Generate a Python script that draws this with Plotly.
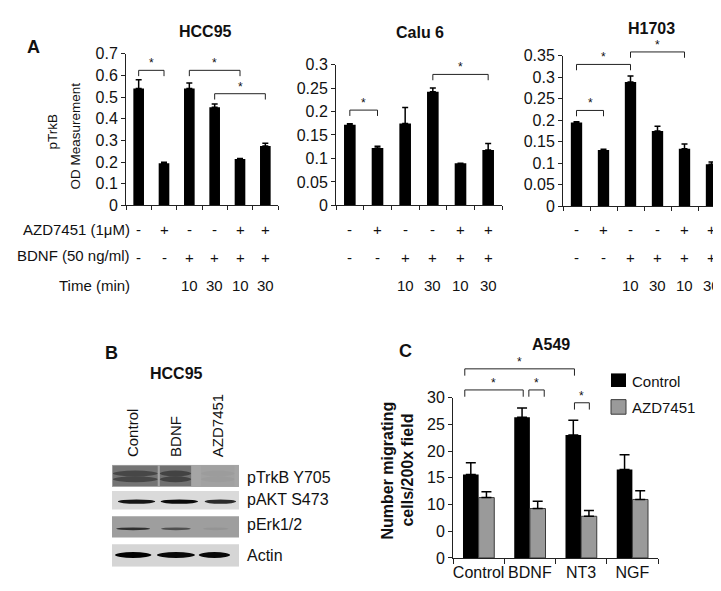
import plotly.graph_objects as go

# ---------------- data ----------------
# Panel A: pTrkB OD measurement
a_titles = ['HCC95', 'Calu 6', 'H1703']
hcc95_vals = [0.54, 0.195, 0.54, 0.453, 0.214, 0.274]
hcc95_err = [0.04, 0.004, 0.025, 0.015, 0.003, 0.013]
calu6_vals = [0.172, 0.122, 0.1745, 0.242, 0.0897, 0.118]
calu6_err = [0.002, 0.004, 0.034, 0.008, 0.0, 0.014]
h1703_vals = [0.195, 0.131, 0.289, 0.175, 0.134, 0.098]
h1703_err = [0.002, 0.002, 0.014, 0.011, 0.011, 0.005]
a_ymax = [0.7, 0.3, 0.35]
a_ytick_vals = [[0, 0.1, 0.2, 0.3, 0.4, 0.5, 0.6, 0.7],
                [0, 0.05, 0.1, 0.15, 0.2, 0.25, 0.3],
                [0, 0.05, 0.1, 0.15, 0.2, 0.25, 0.3, 0.35]]
azd_row = ['-', '+', '-', '-', '+', '+']
bdnf_row = ['-', '-', '+', '+', '+', '+']
time_row = ['', '', '10', '30', '10', '30']
row_labels = ['AZD7451 (1μM)', 'BDNF (50 ng/ml)', 'Time (min)']
# significance brackets: (left bar, right bar, height)
hcc95_sig = [(0, 1, 0.624), (2, 4, 0.624), (3, 5, 0.516)]
calu6_sig = [(0, 1, 0.203), (3, 5, 0.279)]
h1703_sig = [(0, 1, 0.223), (0, 2, 0.33), (2, 4, 0.359)]

# Panel B: western blot (relative band intensities)
blot_lanes = ['Control', 'BDNF', 'AZD7451']
blot_proteins = ['pTrkB Y705', 'pAKT S473', 'pErk1/2', 'Actin']
ptrkb_band = [0.85, 0.9, 0.06]
pakt_band = [0.9, 0.95, 0.8]
perk_band = [0.7, 0.5, 0.06]
actin_band = [1.0, 0.97, 0.97]

# Panel C: A549 migration
c_cats = ['Control', 'BDNF', 'NT3', 'NGF']
c_ctrl = [15.6, 26.35, 23.0, 16.55]
c_ctrl_err = [2.2, 1.7, 2.8, 2.75]
c_azd = [11.3, 9.25, 7.8, 10.95]
c_azd_err = [1.1, 1.35, 1.1, 1.65]
c_ytick_vals = [0, 5, 10, 15, 20, 25, 30]
c_ytick_text = ['0', '0', '10', '15', '20', '25', '30']
c_sig = [(-0.27, 1.87, 35.4), (-0.27, 0.87, 31.45), (0.98, 1.28, 31.45), (1.87, 2.16, 29.05)]

# ---------------- layout geometry ----------------
W, H = 721, 591
FONT = 'Liberation Sans, Arial, sans-serif'
TXT = '#111111'


def fx(p):
    return p / W


def fy(p):
    return 1 - p / H


a_xpx = [(118, 270), (328, 494), (555, 717)]
a_ypx = [(39, 195), (50, 195), (41, 196)]
blot_xpx = (104, 231)
blot_ypx = (462, 567)
c_xpx = (445, 650)
c_ypx = (393, 558)

fig = go.Figure()
annotations = []
shapes = []


def ann(text, x, y, xref='paper', yref='paper', size=15, bold=False, xanchor='center',
        yanchor='middle', angle=0):
    annotations.append(dict(text=('<b>%s</b>' % text) if bold else text, x=x, y=y, xref=xref, yref=yref,
                            showarrow=False, xanchor=xanchor, yanchor=yanchor, textangle=angle,
                            font=dict(family=FONT, size=size, color=TXT)))


def to_paper(v, ypx, rng):
    d0, d1 = fy(ypx[1]), fy(ypx[0])
    return d0 + (v - rng[0]) / (rng[1] - rng[0]) * (d1 - d0)


def bracket(xref, x1, x2, ypaper, drop):
    for (a0, b0, a1, b1) in [(x1, ypaper - drop, x1, ypaper), (x1, ypaper, x2, ypaper),
                             (x2, ypaper, x2, ypaper - drop)]:
        shapes.append(dict(type='line', xref=xref, yref='paper', x0=a0, y0=b0, x1=a1, y1=b1,
                           line=dict(color='#222222', width=1)))
    ann('*', (x1 + x2) / 2, ypaper - 2.0 / H, xref=xref, size=12, yanchor='bottom')


# ---------------- Panel A ----------------
a_vals = [hcc95_vals, calu6_vals, h1703_vals]
a_errs = [hcc95_err, calu6_err, h1703_err]
a_sigs = [hcc95_sig, calu6_sig, h1703_sig]
axis_common = dict(showgrid=False, zeroline=False, showline=True, linecolor='#222222', linewidth=1,
                   ticks='outside', tickcolor='#222222', ticklen=4,
                   tickfont=dict(family=FONT, size=16, color=TXT))
layout_axes = {}
for i in range(3):
    n = i + 1
    xs = list(range(len(a_vals[i])))
    fig.add_trace(go.Bar(x=xs, y=a_vals[i], width=0.42, marker=dict(color='black', line=dict(width=0)),
                         error_y=dict(type='data', symmetric=False, array=a_errs[i],
                                      arrayminus=[0] * len(xs), color='black', thickness=1.5, width=3),
                         xaxis='x%d' % n, yaxis='y%d' % n, showlegend=False))
    layout_axes['xaxis%d' % n] = dict(axis_common, domain=[fx(a_xpx[i][0]), fx(a_xpx[i][1])],
                                      range=[-0.5, 5.5], tickvals=[k - 0.5 for k in range(7)],
                                      showticklabels=False, anchor='y%d' % n)
    layout_axes['yaxis%d' % n] = dict(axis_common, domain=[fy(a_ypx[i][1]), fy(a_ypx[i][0])],
                                      range=[0, a_ymax[i]], tickvals=a_ytick_vals[i],
                                      ticktext=[('%g' % v) for v in a_ytick_vals[i]], anchor='x%d' % n)
    xr = 'x%d' % n
    rng = [0, a_ymax[i]]
    for (l, r, h) in a_sigs[i]:
        bracket(xr, l, r, to_paper(h, a_ypx[i], rng), 6.0 / H)
    for k in xs:
        ann(azd_row[k], k, fy(220), xref=xr)
        ann(bdnf_row[k], k, fy(249), xref=xr)
        if time_row[k]:
            ann(time_row[k], k, fy(277), xref=xr)
ann(a_titles[0], fx(197), fy(16), size=16, bold=True)
ann(a_titles[1], fx(412), fy(17), size=16, bold=True)
ann(a_titles[2], fx(643), fy(13), size=16, bold=True)
ann('A', fx(25), fy(32), size=18, bold=True)
ann('pTrkB', fx(45), fy(119), size=13.5, angle=-90)
ann('OD Measurement', fx(67), fy(124), size=13.5, angle=-90)
for j, lab in enumerate(row_labels):
    ann(lab, fx(124), fy([220, 247, 277][j]), xanchor='right')

# ---------------- Panel B (western blot) ----------------
row_top = [0, 27, 53, 82]
row_bot = [23, 46, 75, 105]
row_bg = ['#a5a5a5', '#dadada', '#9e9e9e', '#d5d5d5']
band_y = [12, 38, 66, 93]
band_hh = [2.6, 2.2, 1.4, 3.0]
band_cx = [[0.05, 1.0, 2.0], [0.08, 1.09, 2.06], [0.0, 1.01, 1.95], [0.0, 1.01, 1.92]]
band_hw = [[0.53, 0.37, 0.4], [0.44, 0.44, 0.37], [0.4, 0.35, 0.3], [0.43, 0.45, 0.37]]
bands = [ptrkb_band, pakt_band, perk_band, actin_band]
# invisible anchor trace for blot axes
fig.add_trace(go.Scatter(x=[0, 1, 2], y=[row_top[0]] * 3, mode='markers', marker=dict(opacity=0),
                         xaxis='x4', yaxis='y4', showlegend=False, hoverinfo='skip'))
layout_axes['xaxis4'] = dict(domain=[fx(blot_xpx[0]), fx(blot_xpx[1])], range=[-0.5, 2.5], visible=False,
                             anchor='y4')
layout_axes['yaxis4'] = dict(domain=[fy(blot_ypx[1]), fy(blot_ypx[0])], range=[105, 0], visible=False,
                             anchor='x4')
for r in range(4):
    shapes.append(dict(type='rect', xref='x4', yref='y4', x0=-0.5, x1=2.5, y0=row_top[r], y1=row_bot[r],
                       fillcolor=row_bg[r], line=dict(width=0), layer='below'))
    for ln in range(3):
        inten = bands[r][ln]
        cx, hw = band_cx[r][ln], band_hw[r][ln]
        if r == 0:
            # diffuse doublet smear
            shapes.append(dict(type='rect', xref='x4', yref='y4', x0=cx - hw, x1=cx + hw,
                               y0=row_top[r] + 1, y1=row_bot[r] - 1, fillcolor='black',
                               opacity=0.35 * inten, line=dict(width=0)))
            for by in (9, 15):
                shapes.append(dict(type='circle', xref='x4', yref='y4', x0=cx - hw, x1=cx + hw,
                                   y0=by - 3, y1=by + 3, fillcolor='black',
                                   opacity=0.45 * inten, line=dict(width=0)))
        else:
            shapes.append(dict(type='circle', xref='x4', yref='y4', x0=cx - hw, x1=cx + hw,
                               y0=band_y[r] - band_hh[r], y1=band_y[r] + band_hh[r], fillcolor='black',
                               opacity=inten, line=dict(width=0)))
for ln, lab in enumerate(blot_lanes):
    ann(lab, ln, fy(456), xref='x4', size=15, angle=-90, yanchor='bottom')
prot_y = [475, 498, 524, 555]
for r, lab in enumerate(blot_proteins):
    ann(lab, fx(237), fy(prot_y[r]), size=16, xanchor='left')
ann('B', fx(103), fy(347), size=18, bold=True)
ann('HCC95', fx(168), fy(368), size=16, bold=True)

# ---------------- Panel C ----------------
fig.add_trace(go.Bar(x=c_cats, y=c_ctrl, name='Control', marker=dict(color='black', line=dict(width=0)),
                     error_y=dict(type='data', symmetric=False, array=c_ctrl_err, arrayminus=[0] * 4,
                                  color='black', thickness=1.5, width=5),
                     xaxis='x5', yaxis='y5', showlegend=False))
fig.add_trace(go.Bar(x=c_cats, y=c_azd, name='AZD7451',
                     marker=dict(color='#9a9a9a', line=dict(color='#3a3a3a', width=1)),
                     error_y=dict(type='data', symmetric=False, array=c_azd_err, arrayminus=[0] * 4,
                                  color='black', thickness=1.5, width=5),
                     xaxis='x5', yaxis='y5', showlegend=False))
layout_axes['xaxis5'] = dict(axis_common, domain=[fx(c_xpx[0]), fx(c_xpx[1])], type='category',
                             tickson='boundaries', ticklen=5, tickangle=0, anchor='y5')
layout_axes['yaxis5'] = dict(axis_common, domain=[fy(c_ypx[1]), fy(c_ypx[0])], range=[0, 30],
                             tickvals=c_ytick_vals, ticktext=c_ytick_text, anchor='x5')
for (l, r, h) in c_sig:
    bracket('x5', l, r, to_paper(h, c_ypx, [0, 30]), 7.0 / H)
ann('C', fx(397), fy(345), size=18, bold=True)
ann('A549', fx(543), fy(338), size=16, bold=True)
ann('Number migrating', fx(380), fy(468), size=16, bold=True, angle=-90)
ann('cells/200x field', fx(400), fy(468), size=16, bold=True, angle=-90)
# legend
shapes.append(dict(type='rect', xref='paper', yref='paper', x0=fx(603), x1=fx(618), y0=fy(382), y1=fy(368),
                   fillcolor='black', line=dict(width=0)))
shapes.append(dict(type='rect', xref='paper', yref='paper', x0=fx(603), x1=fx(618), y0=fy(410), y1=fy(395),
                   fillcolor='#9a9a9a', line=dict(color='#3a3a3a', width=1)))
ann('Control', fx(622), fy(376), size=15, xanchor='left')
ann('AZD7451', fx(622), fy(403), size=15, xanchor='left')

fig.update_layout(width=W, height=H, margin=dict(l=0, r=0, t=0, b=0), paper_bgcolor='white',
                  plot_bgcolor='rgba(0,0,0,0)', barmode='group', bargap=0.39, bargroupgap=0,
                  annotations=annotations, shapes=shapes, showlegend=False,
                  font=dict(family=FONT, color=TXT), **layout_axes)
fig.write_html('out.html')
